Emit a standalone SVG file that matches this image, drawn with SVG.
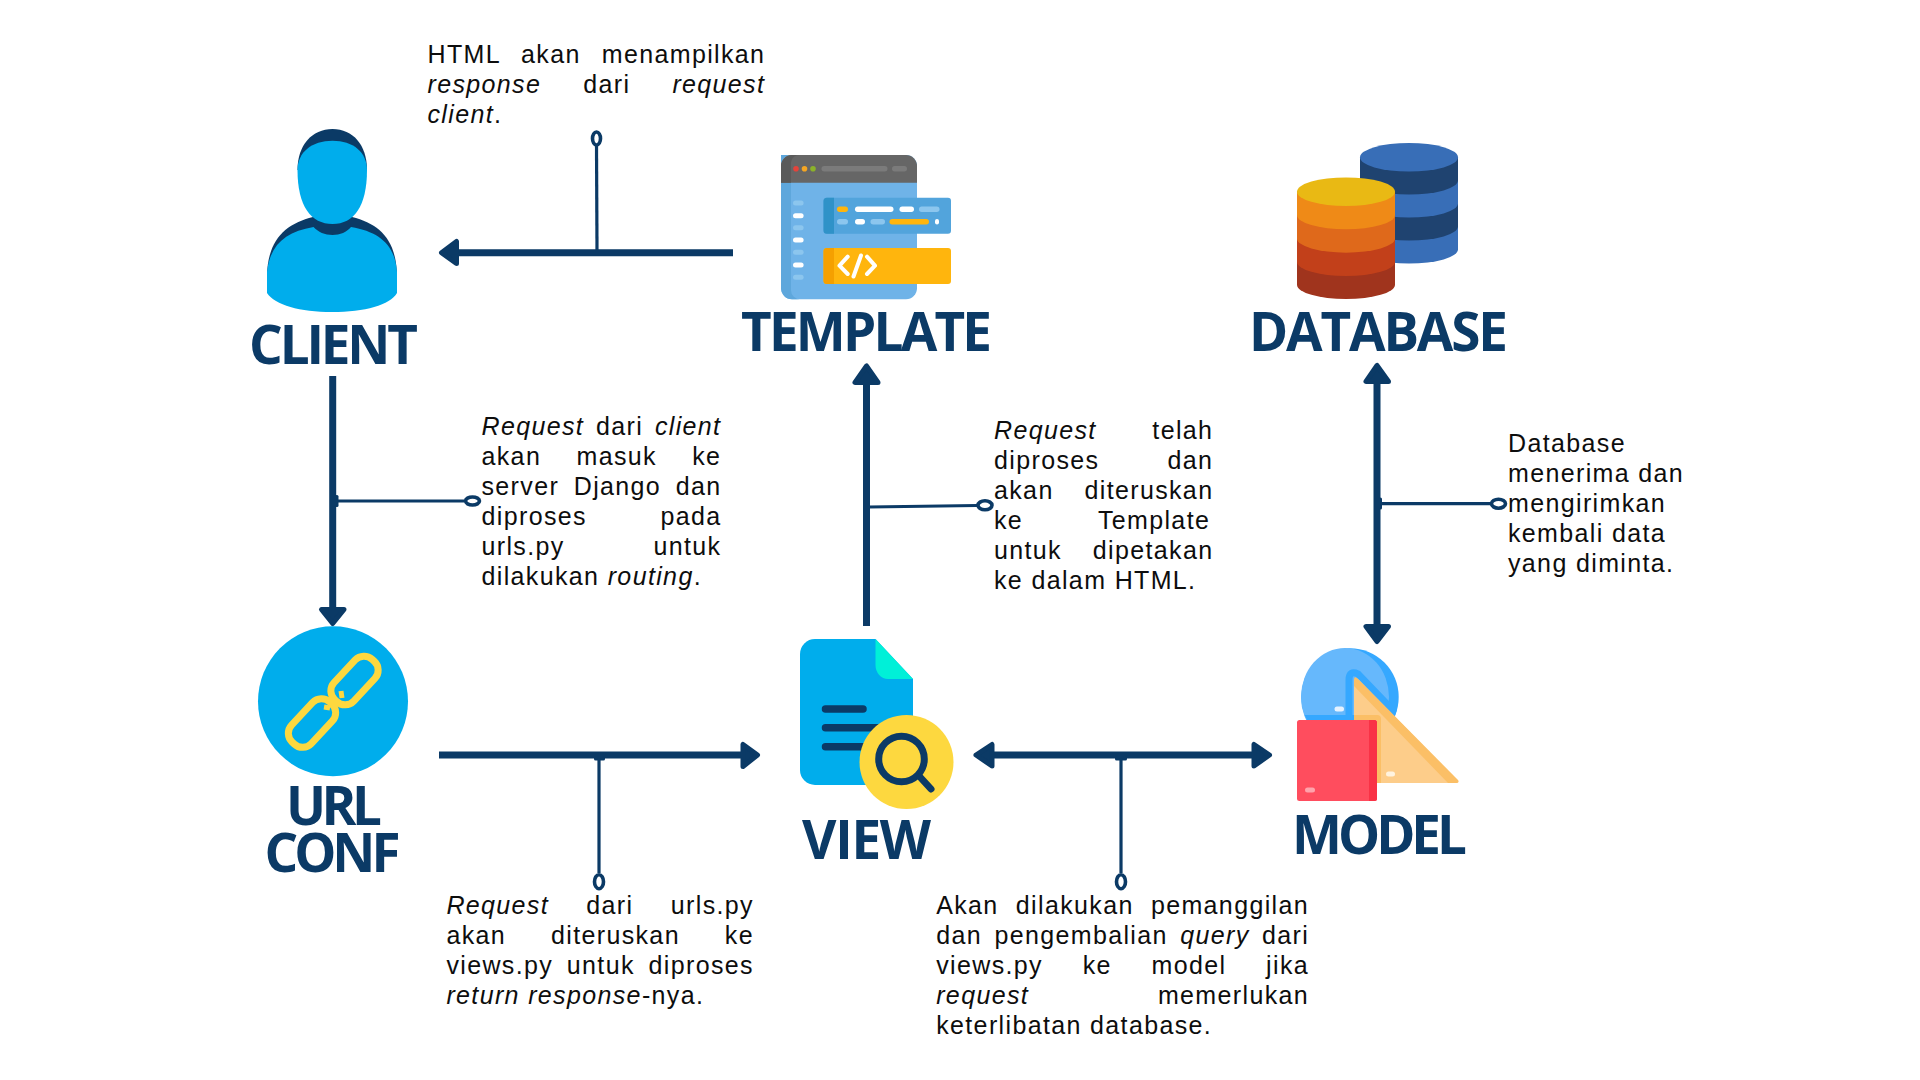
<svg xmlns="http://www.w3.org/2000/svg" width="1920" height="1080" viewBox="0 0 1920 1080">
<style>
.t{font-family:"Liberation Sans",Arial,sans-serif;font-size:25px;letter-spacing:1.36px;fill:#0d0d0d}
.i{font-style:italic}
.h{font-family:"Open Sans","Noto Sans",sans-serif;font-weight:700;font-size:53px;fill:#0b3a66;text-anchor:start}
.stem{fill:none;stroke:#0b3a66;stroke-width:7}
.thin{fill:none;stroke:#0b3a66;stroke-width:3.2}
.ring{fill:#fff;stroke:#0b3a66;stroke-width:3.6}
.head{fill:#0b3a66;stroke:#0b3a66;stroke-width:5;stroke-linejoin:round}
.dk{fill:#0b3a66}
.sky{fill:#00adec}
.ye{fill:#fdd83f}
</style>
<defs>
<clipPath id="modelClip"><circle cx="1350" cy="697" r="48.7"/></clipPath>
</defs>
<rect width="1920" height="1080" fill="#fff"/>

<g id="connectors">
  <path class="stem" d="M733,252.7H456"/><path class="head" d="M456.500,241.500V263.500L441.500,252.700Z"/>
  <path class="thin" d="M596.5,146L597,250"/><ellipse class="ring" cx="596.5" cy="138.5" rx="4" ry="6.5"/>

  <path class="stem" d="M332.7,376V610"/><path class="head" d="M321.500,609.500H344L332.700,623.500Z"/>
  <path class="thin" d="M335,501H464" /><rect class="dk" x="335" y="495" width="3.5" height="12" rx="1.5"/><ellipse class="ring" cx="472.5" cy="501" rx="7" ry="4"/>

  <path class="stem" d="M866.5,626V385"/><path class="head" d="M855,382.500H878L866.500,366Z"/>
  <path class="thin" d="M869,507L977,505.5"/><ellipse class="ring" cx="985" cy="505.3" rx="7" ry="4.5"/>

  <path class="stem" d="M1377,382V626"/><path class="head" d="M1366,381.500H1388.500L1377,365.500Z"/><path class="head" d="M1366,626.500H1388.500L1377,641.500Z"/>
  <path class="thin" d="M1379,503.7H1491"/><rect class="dk" x="1379" y="497.5" width="3" height="12" rx="1.5"/><ellipse class="ring" cx="1498.5" cy="503.7" rx="7" ry="4.5"/>

  <path class="stem" d="M439,755H742"/><path class="head" d="M743,744.500V766.500L757.500,755Z"/>
  <rect class="dk" x="594" y="756" width="11" height="4.5" rx="1.5"/><path class="thin" d="M599,758V873"/><ellipse class="ring" cx="599" cy="881.7" rx="4.5" ry="7"/>

  <path class="stem" d="M992,755H1254"/><path class="head" d="M992,744.500V766L976,755Z"/><path class="head" d="M1254,744.500V766L1269.500,755Z"/>
  <rect class="dk" x="1115" y="756" width="12" height="4.5" rx="1.5"/><path class="thin" d="M1121,758V873"/><ellipse class="ring" cx="1121" cy="881.7" rx="4.5" ry="7"/>
</g>

<g id="client">
  <path class="dk" d="M267,278C267,240 285,224 313,217H352C380,224 397,240 397,278Z"/>
  <path class="sky" d="M267,293V272C270,245 285,232 313.5,227C318,232 325,235 332.5,235C340,235 347,232 351,227C380,232 395,245 397,272V293C390,305 365,312 332,312C300,312 275,305 267,293Z"/>
  <path class="dk" d="M297.500,170C297.500,145 312,129 332.500,129C353,129 367,145 367,170Z"/>
  <path class="sky" d="M297.500,170C297.500,152 312,140.700 332.500,140.700C353,140.700 367,152 367,170C367,206 354,224 332.500,224C311,224 297.500,206 297.500,170Z"/>
  <text class="h" x="249" y="364" textLength="169" lengthAdjust="spacing">CLIENT</text>
</g>

<g id="template">
  <rect x="781" y="155" width="136" height="144.300" rx="11" fill="#6fb3e8"/>
  <path d="M792,155A11,11 0 0 0 781,166V288A11,11 0 0 0 792,299.3H800A9,9 0 0 1 791,290V182.700H781V155Z" fill="#5ea7dc"/>
  <path d="M792,155H906A11,11 0 0 1 917,166V182.700H781V166A11,11 0 0 1 792,155Z" fill="#666"/>
  <path d="M792,155A11,11 0 0 0 781,166V182.700H791V162A8,8 0 0 1 799,155Z" fill="#5a5a5a"/>
  <circle cx="796" cy="168.700" r="2.800" fill="#e4433b"/><circle cx="804.500" cy="168.700" r="2.800" fill="#f5a623"/><circle cx="813" cy="168.700" r="2.800" fill="#8bb22a"/>
  <rect x="821.500" y="166" width="66" height="5.500" rx="2.700" fill="#7b7b7b"/><rect x="892" y="166" width="15" height="5.500" rx="2.700" fill="#7b7b7b"/>
  <g fill="#8cc6ee"><rect x="793" y="200.500" width="10.600" height="5" rx="2.500"/><rect x="793" y="225.200" width="10.600" height="5" rx="2.500"/><rect x="793" y="249.800" width="10.600" height="5" rx="2.500"/><rect x="793" y="274.800" width="10.600" height="5" rx="2.500"/></g>
  <g fill="#fff"><rect x="793" y="213.200" width="10.600" height="5" rx="2.500"/><rect x="793" y="237.500" width="10.600" height="5" rx="2.500"/><rect x="793" y="262.500" width="10.600" height="5" rx="2.500"/></g>
  <rect x="823.500" y="197.700" width="127.500" height="36" rx="3" fill="#52a4dc"/><path d="M827,197.700H834V233.700H827A3.500,3.500 0 0 1 823.500,230.200V201.200A3.500,3.500 0 0 1 827,197.700Z" fill="#2f92c8"/>
  <g fill="#ffb50d"><rect x="837" y="206.500" width="11" height="5.500" rx="2.700"/><rect x="889.500" y="219" width="39.500" height="5.500" rx="2.700"/></g>
  <g fill="#fff"><rect x="855" y="206.500" width="38.500" height="5.500" rx="2.700"/><rect x="899.500" y="206.500" width="14.500" height="5.500" rx="2.700"/><rect x="855" y="219" width="10" height="5.500" rx="2.700"/><rect x="935" y="219" width="4" height="5.500" rx="2"/></g>
  <g fill="#8cc6ee"><rect x="919" y="206.500" width="20.500" height="5.500" rx="2.700"/><rect x="837" y="219" width="11" height="5.500" rx="2.700"/><rect x="870.500" y="219" width="14.500" height="5.500" rx="2.700"/></g>
  <rect x="823.500" y="248" width="127.500" height="36" rx="3" fill="#ffb50d"/><path d="M827,248H834V284H827A3.500,3.500 0 0 1 823.500,280.500V251.500A3.500,3.500 0 0 1 827,248Z" fill="#f5a000"/>
  <path d="M847.700,256.700L839.500,265.700L847.700,274M861,255.500L853.500,276.500M867,256.700L875,265.700L867,274" fill="none" stroke="#fff" stroke-width="4" stroke-linecap="round" stroke-linejoin="round"/>
  <text class="h" x="741" y="351" textLength="251" lengthAdjust="spacing">TEMPLATE</text>
</g>

<g id="database">
  <g>
    <path d="M1360,157.300V249.300A49,14.300 0 0 0 1458,249.300V157.300Z" fill="#386eb7"/>
    <path d="M1360,157.300V226.300A49,14.300 0 0 0 1458,226.300V157.300Z" fill="#1f4370"/>
    <path d="M1360,157.300V203.300A49,14.300 0 0 0 1458,203.300V157.300Z" fill="#386eb7"/>
    <path d="M1360,157.300V180.300A49,14.300 0 0 0 1458,180.300V157.300Z" fill="#1f4370"/>
    <ellipse cx="1409" cy="157.300" rx="49" ry="14.300" fill="#386eb7"/>
  </g>
  <g>
    <path d="M1297,191.700V284.700A49,14.300 0 0 0 1395,284.700V191.700Z" fill="#a0341d"/>
    <path d="M1297,191.700V261.700A49,14.300 0 0 0 1395,261.700V191.700Z" fill="#c2401a"/>
    <path d="M1297,191.700V238.400A49,14.300 0 0 0 1395,238.400V191.700Z" fill="#df691b"/>
    <path d="M1297,191.700V215A49,14.300 0 0 0 1395,215V191.700Z" fill="#ef8a17"/>
    <ellipse cx="1346" cy="191.700" rx="49" ry="14.300" fill="#e9b914"/>
  </g>
  <text class="h" x="1249" y="351" textLength="259" lengthAdjust="spacing">DATABASE</text>
</g>

<g id="url-conf">
  <circle class="sky" cx="333" cy="701.300" r="75"/>
  <g fill="none" stroke="#fdd83f" stroke-width="7">
    <rect x="327" y="667" width="55" height="27" rx="12" transform="rotate(-47 354.500 680.500)"/>
    <rect x="284.500" y="709.500" width="55" height="27" rx="12" transform="rotate(-47 312 723)"/>
    <path d="M324,707L330,708M341,691L342,698" stroke-width="5"/>
  </g>
  <text class="h"><tspan x="286" y="825" textLength="96" lengthAdjust="spacing">URL</tspan><tspan x="264.500" y="872" textLength="136" lengthAdjust="spacing">CONF</tspan></text>
</g>

<g id="view">
  <path class="sky" d="M815,639H875.500L913,679V785H815A15,15 0 0 1 800,770V654A15,15 0 0 1 815,639Z"/>
  <path d="M875.500,639L913,679H888A12.500,14 0 0 1 875.500,665Z" fill="#00f0d8"/>
  <g fill="none" stroke="#0b3a66" stroke-width="7.500" stroke-linecap="round"><path d="M825.500,709H863M825.500,727.700H880M825.500,746.700H870"/></g>
  <circle class="ye" cx="906.500" cy="762" r="47"/>
  <circle cx="901.500" cy="759" r="22.800" fill="none" stroke="#0b3a66" stroke-width="7"/>
  <path d="M920,777L931,789" fill="none" stroke="#0b3a66" stroke-width="7" stroke-linecap="round"/>
  <text class="h" x="802" y="859" textLength="129" lengthAdjust="spacing">VIEW</text>
</g>

<g id="model">
  <circle cx="1350" cy="697" r="48.700" fill="#35a8ff"/>
  <ellipse cx="1345" cy="697" rx="44" ry="49" fill="#66b8fc"/>
  <g clip-path="url(#modelClip)">
    <path d="M1349,725V680Q1349,670 1358,674L1465,785" fill="none" stroke="#35a8ff" stroke-width="7"/>
    <rect x="1297" y="715" width="60" height="8" fill="#35a8ff"/>
  </g>
  <path d="M1354,683Q1354,676 1359,680L1457,780Q1460,783 1455,783H1354Z" fill="#fdcd8a"/>
  <path d="M1357,678L1458,780Q1460,783 1455,783H1448L1354,686V680Q1354,676 1357,678Z" fill="#fbbf66"/>
  <path d="M1354,715H1377Q1381,715 1381,719V783H1377V720H1354Z" fill="#fbbf66"/>
  <rect x="1386" y="771.500" width="9" height="5" rx="2.500" fill="#fff3df"/>
  <rect x="1334.500" y="706.500" width="9.500" height="5" rx="2.500" fill="#e6f2ff"/>
  <rect x="1297" y="720" width="80" height="81" rx="2.500" fill="#ff4d5e"/>
  <path d="M1369,720H1374.500A2.500,2.500 0 0 1 1377,722.500V798.500A2.500,2.500 0 0 1 1374.500,801H1369Z" fill="#f93246"/>
  <rect x="1305" y="787.500" width="10" height="5" rx="2.500" fill="#ffa3ab"/>
  <text class="h" x="1292" y="854" textLength="175" lengthAdjust="spacing">MODEL</text>
</g>

<g id="notes">
  <text class="t">
    <tspan x="427.500" y="63" word-spacing="12.700">HTML akan menampilkan</tspan>
    <tspan x="427.500" y="93" word-spacing="33.700"><tspan class="i">response</tspan> dari <tspan class="i">request</tspan></tspan>
    <tspan x="427.500" y="123"><tspan class="i">client</tspan>.</tspan>
  </text>
  <text class="t">
    <tspan x="481.500" y="435" word-spacing="3.500"><tspan class="i">Request</tspan> dari <tspan class="i">client</tspan></tspan>
    <tspan x="481.500" y="465" word-spacing="27">akan masuk ke</tspan>
    <tspan x="481.500" y="495" word-spacing="6.300">server Django dan</tspan>
    <tspan x="481.500" y="525" word-spacing="65.200">diproses pada</tspan>
    <tspan x="481.500" y="555" word-spacing="80.500">urls.py untuk</tspan>
    <tspan x="481.500" y="585">dilakukan <tspan class="i">routing</tspan>.</tspan>
  </text>
  <text class="t">
    <tspan x="994" y="439" word-spacing="47.400"><tspan class="i">Request</tspan> telah</tspan>
    <tspan x="994" y="469" word-spacing="59.900">diproses dan</tspan>
    <tspan x="994" y="499" word-spacing="22.500">akan diteruskan</tspan>
    <tspan x="994" y="529" word-spacing="66.900">ke Template</tspan>
    <tspan x="994" y="559" word-spacing="22.500">untuk dipetakan</tspan>
    <tspan x="994" y="589">ke dalam HTML.</tspan>
  </text>
  <text class="t">
    <tspan x="1508" y="452">Database</tspan>
    <tspan x="1508" y="482">menerima dan</tspan>
    <tspan x="1508" y="512">mengirimkan</tspan>
    <tspan x="1508" y="542">kembali data</tspan>
    <tspan x="1508" y="572">yang diminta.</tspan>
  </text>
  <text class="t">
    <tspan x="446.400" y="914" word-spacing="29"><tspan class="i">Request</tspan> dari urls.py</tspan>
    <tspan x="446.400" y="944" word-spacing="36.600">akan diteruskan ke</tspan>
    <tspan x="446.400" y="974" word-spacing="5.400">views.py untuk diproses</tspan>
    <tspan x="446.400" y="1004"><tspan class="i">return response</tspan>-nya.</tspan>
  </text>
  <text class="t">
    <tspan x="936.200" y="914" word-spacing="8.900">Akan dilakukan pemanggilan</tspan>
    <tspan x="936.200" y="944" word-spacing="4.100">dan pengembalian <tspan class="i">query</tspan> dari</tspan>
    <tspan x="936.200" y="974" word-spacing="31.400">views.py ke model jika</tspan>
    <tspan x="936.200" y="1004" word-spacing="120.500"><tspan class="i">request</tspan> memerlukan</tspan>
    <tspan x="936.200" y="1034">keterlibatan database.</tspan>
  </text>
</g>
</svg>
